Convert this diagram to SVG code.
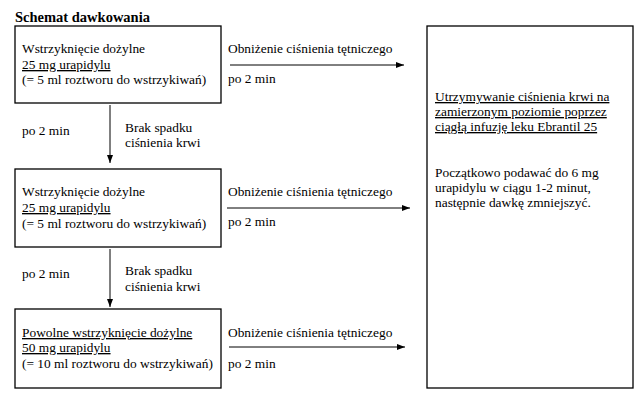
<svg xmlns="http://www.w3.org/2000/svg" width="644" height="400" viewBox="0 0 644 400">
<style>
text{font-family:"Liberation Serif","Times New Roman",serif;font-size:13.4px;fill:#000}
.title{font-weight:bold;font-size:14.5px}
.u{text-decoration:underline}
.box{fill:#fff;stroke:#000;stroke-width:1.3}
.ln{stroke:#000;stroke-width:1;fill:none}
</style>
<defs>
<marker id="ah" viewBox="0 0 8 6" refX="8" refY="3" markerWidth="8" markerHeight="6" markerUnits="userSpaceOnUse" orient="auto">
<path d="M0,0 L8,3 L0,6 Z" fill="#000"/>
</marker>
</defs>
<rect width="644" height="400" fill="#fff"/>
<text class="title" x="15" y="22">Schemat dawkowania</text>
<g id="box1">
<rect class="box" x="15" y="26" width="206" height="77"/>
<text x="22" y="53">Wstrzyknięcie dożylne</text>
<text class="u" x="22" y="69">25 mg urapidylu</text>
<text x="22" y="84">(= 5 ml roztworu do wstrzykiwań)</text>
</g>
<g id="box2">
<rect class="box" x="15" y="169" width="206" height="78"/>
<text x="22" y="196">Wstrzyknięcie dożylne</text>
<text class="u" x="22" y="212">25 mg urapidylu</text>
<text x="22" y="228">(= 5 ml roztworu do wstrzykiwań)</text>
</g>
<g id="box3">
<rect class="box" x="15" y="309" width="206" height="79"/>
<text class="u" x="22" y="337">Powolne wstrzyknięcie dożylne</text>
<text class="u" x="22" y="352">50 mg urapidylu</text>
<text x="22" y="368">(= 10 ml roztworu do wstrzykiwań)</text>
</g>
<g id="box4">
<rect class="box" x="427" y="26" width="206" height="362"/>
<text class="u" x="435" y="101">Utrzymywanie ciśnienia krwi na</text>
<text class="u" x="435" y="116">zamierzonym poziomie poprzez</text>
<text class="u" x="435" y="131">ciągłą infuzję leku Ebrantil 25</text>
<text x="435" y="177">Początkowo podawać do 6 mg</text>
<text x="435" y="192">urapidylu w ciągu 1-2 minut,</text>
<text x="435" y="207">następnie dawkę zmniejszyć.</text>
</g>
<g id="connectors">
<line class="ln" x1="230" y1="65" x2="404" y2="65" marker-end="url(#ah)"/>
<line class="ln" x1="227" y1="208" x2="410" y2="208" marker-end="url(#ah)"/>
<line class="ln" x1="229" y1="347" x2="405" y2="347" marker-end="url(#ah)"/>
<line class="ln" x1="110" y1="105" x2="110" y2="163" marker-end="url(#ah)"/>
<line class="ln" x1="110" y1="249" x2="110" y2="307" marker-end="url(#ah)"/>
</g>
<g id="labels">
<text x="228" y="53">Obniżenie ciśnienia tętniczego</text>
<text x="228" y="83">po 2 min</text>
<text x="228" y="196">Obniżenie ciśnienia tętniczego</text>
<text x="228" y="226">po 2 min</text>
<text x="228" y="337">Obniżenie ciśnienia tętniczego</text>
<text x="228" y="368">po 2 min</text>
<text x="22" y="135">po 2 min</text>
<text x="125" y="132">Brak spadku</text>
<text x="125" y="147">ciśnienia krwi</text>
<text x="22" y="278">po 2 min</text>
<text x="125" y="275">Brak spadku</text>
<text x="125" y="291">ciśnienia krwi</text>
</g>
</svg>
